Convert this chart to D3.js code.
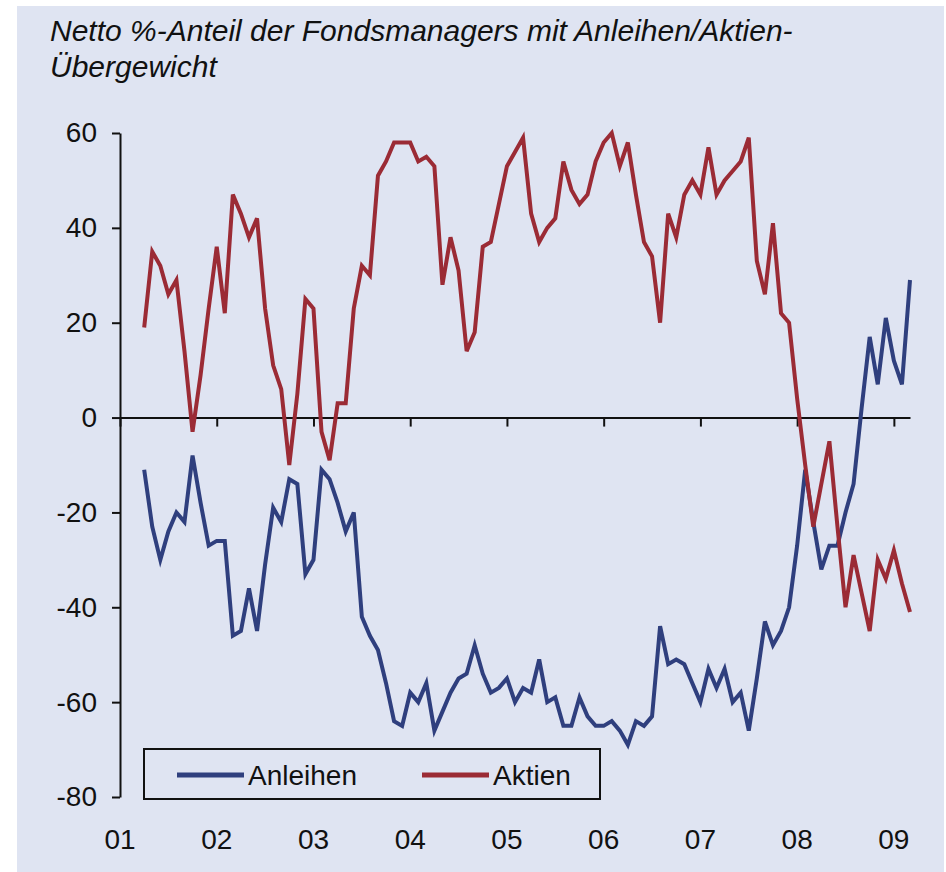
<!DOCTYPE html>
<html>
<head>
<meta charset="utf-8">
<script src="https://cdn.jsdelivr.net/npm/d3@7"></script>
<style>
  body { margin: 0; background: #fff; }
  text { font-family: "Liberation Sans", Arial, sans-serif; }
</style>
</head>
<body>
<div id="chart"></div>
<script>
// Monthly survey values, April 2001 - March 2009
const firstMonth = 3; // months after Jan 2001
const anleihen = [
  -11, -23, -30, -24, -20, -22, -8, -18, -27,
  -26, -26, -46, -45, -36, -45, -31, -19, -22, -13, -14, -33,
  -30, -11, -13, -18, -24, -20, -42, -46, -49, -56, -64, -65,
  -58, -60, -56, -66, -62, -58, -55, -54, -48, -54, -58, -57,
  -55, -60, -57, -58, -51, -60, -59, -65, -65, -59, -63, -65,
  -65, -64, -66, -69, -64, -65, -63, -44, -52, -51, -52, -56,
  -60, -53, -57, -53, -60, -58, -66, -55, -43, -48, -45, -40,
  -27, -11, -22, -32, -27, -27, -20, -14, 2, 17, 7, 21,
  12, 7, 29
];
const aktien = [
  19, 35, 32, 26, 29, 14, -3, 9, 23,
  36, 22, 47, 43, 38, 42, 23, 11, 6, -10, 5, 25,
  23, -3, -9, 3, 3, 23, 32, 30, 51, 54, 58, 58,
  58, 54, 55, 53, 28, 38, 31, 14, 18, 36, 37, 45,
  53, 56, 59, 43, 37, 40, 42, 54, 48, 45, 47, 54,
  58, 60, 53, 58, 47, 37, 34, 20, 43, 38, 47, 50,
  47, 57, 47, 50, 52, 54, 59, 33, 26, 41, 22, 20,
  4, -10, -23, -14, -5, -23, -40, -29, -37, -45, -30, -34,
  -28, -35, -41
];
const yearLabels = ["01", "02", "03", "04", "05", "06", "07", "08", "09"];
const yearStarts = [0, 12, 24, 36, 48, 60, 72, 84, 96];
const yTicks = [-80, -60, -40, -20, 0, 20, 40, 60];

const width = 946, height = 872;
const plot = { left: 120, right: 910, top: 133, bottom: 797 };
const colors = { bg: "#dfe4f2", blue: "#2f3f7e", red: "#9b2b35" };

const svg = d3.select("#chart")
    .append("svg")
    .attr("width", width)
    .attr("height", height);

// Background panel
svg.append("rect")
    .attr("x", 17).attr("y", 6)
    .attr("width", 927).attr("height", height - 6)
    .attr("fill", colors.bg);

// Title
svg.append("text")
    .attr("x", 50).attr("y", 41)
    .style("font-size", "30px")
    .style("font-style", "italic")
    .attr("fill", "#111")
    .text("Netto %-Anteil der Fondsmanagers mit Anleihen/Aktien-");
svg.append("text")
    .attr("x", 50).attr("y", 77)
    .style("font-size", "30px")
    .style("font-style", "italic")
    .attr("fill", "#111")
    .text("Übergewicht");

// Scales
const x = d3.scaleLinear()
    .domain([0, 98])
    .range([plot.left, plot.right]);

const y = d3.scaleLinear()
    .domain([-80, 60])
    .range([plot.bottom, plot.top]);

// Y axis (plain hyphen for negatives, as in the original)
const yAxis = svg.append("g")
    .attr("transform", `translate(${plot.left},0)`)
    .call(d3.axisLeft(y).tickValues(yTicks).tickSize(8).tickSizeOuter(0).tickPadding(15)
        .tickFormat(d => String(d)));
yAxis.selectAll("text")
    .style("font-size", "28px")
    .style("font-family", "'Liberation Sans', Arial, sans-serif")
    .attr("fill", "#111");
yAxis.selectAll("path, line").attr("stroke", "#111").attr("stroke-width", 2);

// X axis on the zero line
const xAxis = svg.append("g")
    .attr("transform", `translate(0,${y(0)})`)
    .call(d3.axisBottom(x).tickValues(yearStarts).tickSize(9).tickSizeOuter(0).tickFormat(""));
xAxis.selectAll("path, line").attr("stroke", "#111").attr("stroke-width", 2);

// Year labels under the plot
svg.append("g")
    .selectAll("text")
    .data(yearLabels)
    .enter().append("text")
    .attr("x", (d, i) => x(yearStarts[i]))
    .attr("y", 849)
    .attr("text-anchor", "middle")
    .style("font-size", "28px")
    .attr("fill", "#111")
    .text(d => d);

// Lines
const line = d3.line()
    .x((d, i) => x(firstMonth + i))
    .y(d => y(d));

svg.append("path")
    .datum(anleihen)
    .attr("d", line)
    .attr("fill", "none")
    .attr("stroke", colors.blue)
    .attr("stroke-width", 4);

svg.append("path")
    .datum(aktien)
    .attr("d", line)
    .attr("fill", "none")
    .attr("stroke", colors.red)
    .attr("stroke-width", 4);

// Legend
const legend = svg.append("g");
legend.append("rect")
    .attr("x", 144).attr("y", 749)
    .attr("width", 456).attr("height", 50)
    .attr("fill", colors.bg)
    .attr("stroke", "#111")
    .attr("stroke-width", 2);

const items = [
  { name: "Anleihen", color: colors.blue, x: 177 },
  { name: "Aktien", color: colors.red, x: 422 }
];
items.forEach(it => {
  legend.append("line")
      .attr("x1", it.x).attr("x2", it.x + 67)
      .attr("y1", 775).attr("y2", 775)
      .attr("stroke", it.color)
      .attr("stroke-width", 5);
  legend.append("text")
      .attr("x", it.x + 71).attr("y", 785)
      .style("font-size", "28px")
      .attr("fill", "#111")
      .text(it.name);
});
</script>
</body>
</html>
